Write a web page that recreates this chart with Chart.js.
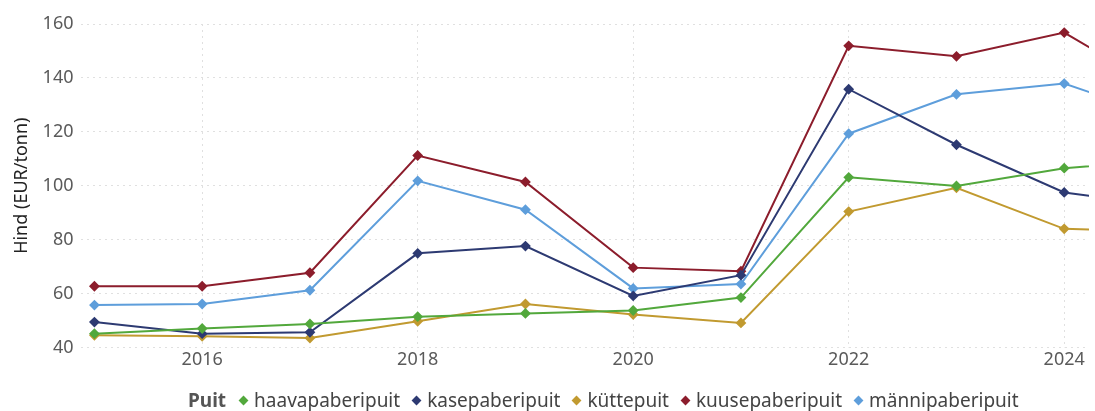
<!DOCTYPE html>
<html>
<head>
<meta charset="utf-8">
<script src="https://cdn.jsdelivr.net/npm/chart.js@4/dist/chart.umd.min.js"></script>
<style>
    html, body { margin: 0; padding: 0; background: #fff; }
    #wrap { position: relative; width: 1095px; height: 411px; overflow: hidden; }
    #legend {
        position: absolute; left: 188px; top: 387px;
        font-family: "Noto Sans", sans-serif; font-size: 19px; color: #444;
        display: flex; align-items: center; white-space: nowrap;
    }
    #legend b { color: #555; margin-right: 13px; }
    #legend .item { display: flex; align-items: center; margin-right: 12px; }
    #legend .dot { width: 7px; height: 7px; transform: rotate(45deg); margin: 0 7px 0 1px; }
</style>
</head>
<body>
<div id="wrap">
    <canvas id="chart" width="1095" height="411"></canvas>
    <div id="legend"></div>
</div>
<script>
// Years on the x axis
const years = [2015, 2016, 2017, 2018, 2019, 2020, 2021, 2022, 2023, 2024, 2025];

// Prices per assortment (EUR/tonn)
const haavapaberipuit = [45.1, 47.0, 48.7, 51.4, 52.6, 53.7, 58.5, 103.1, 99.9, 106.5, 109.7];
const kasepaberipuit = [49.4, 45.1, 45.6, 74.9, 77.6, 59.1, 66.8, 135.8, 115.2, 97.5, 92.1];
const kuttepuit = [44.5, 44.1, 43.5, 49.7, 56.1, 52.2, 49.1, 90.4, 99.2, 84.0, 82.9];
const kuusepaberipuit = [62.7, 62.7, 67.7, 111.2, 101.4, 69.6, 68.3, 151.9, 148.0, 156.8, 133.5];
const mannipaberipuit = [55.7, 56.1, 61.2, 101.8, 91.1, 61.9, 63.5, 119.3, 133.9, 137.9, 124.3];

// Tick labels
const xTicks = [2016, 2018, 2020, 2022, 2024];
const yTicks = [40, 60, 80, 100, 120, 140, 160];

const seriesNames = ['haavapaberipuit', 'kasepaberipuit', 'küttepuit', 'kuusepaberipuit', 'männipaberipuit'];
const seriesValues = [haavapaberipuit, kasepaberipuit, kuttepuit, kuusepaberipuit, mannipaberipuit];
const seriesColors = ['#52a83c', '#2d3a72', '#c19a30', '#8c1d2c', '#5e9edb'];

function start() {
    // Build datasets from the arrays above
    const datasets = seriesNames.map((name, i) => ({
        label: name,
        data: years.map((y, j) => ({ x: y, y: seriesValues[i][j] })),
        borderColor: seriesColors[i],
        backgroundColor: seriesColors[i],
        borderWidth: 2,
        pointStyle: 'rectRot',
        pointRadius: 4,
        tension: 0
    }));

    const ctx = document.getElementById('chart').getContext('2d');
    new Chart(ctx, {
        type: 'line',
        data: { datasets: datasets },
        options: {
            responsive: false,
            animation: false,
            layout: { padding: { top: 24, right: 0, bottom: 38, left: 9 } },
            plugins: { legend: { display: false }, tooltip: { enabled: false } },
            scales: {
                x: {
                    type: 'linear',
                    min: 2014.88,
                    max: 2024.23,
                    afterBuildTicks: axis => { axis.ticks = xTicks.map(v => ({ value: v })); },
                    ticks: {
                        color: '#5a5a5a',
                        font: { family: 'Noto Sans', size: 18 },
                        callback: v => String(v),
                        padding: 2
                    },
                    grid: { color: '#e0e0e0', tickLength: 0 },
                    border: { display: false, dash: [2, 4] }
                },
                y: {
                    min: 40,
                    max: 160,
                    afterBuildTicks: axis => { axis.ticks = yTicks.map(v => ({ value: v })); },
                    ticks: {
                        color: '#5a5a5a',
                        font: { family: 'Noto Sans', size: 18 },
                        padding: 8
                    },
                    grid: { color: '#e0e0e0', tickLength: 0 },
                    border: { display: false, dash: [2, 4] },
                    title: {
                        display: true,
                        text: 'Hind (EUR/tonn)',
                        color: '#222',
                        font: { family: 'Noto Sans', size: 18 },
                        padding: 2
                    }
                }
            }
        }
    });

    // Legend row with the group title in front
    const legend = document.getElementById('legend');
    legend.innerHTML = '<b>Puit</b>';
    seriesNames.forEach((name, i) => {
        legend.innerHTML += `<span class="item"><span class="dot" style="background:${seriesColors[i]}"></span>${name}</span>`;
    });
}

window.addEventListener('load', start, false);
</script>
</body>
</html>
